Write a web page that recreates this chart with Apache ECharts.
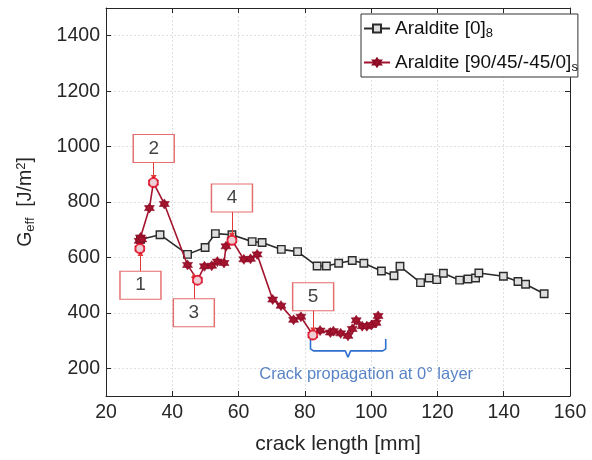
<!DOCTYPE html>
<html>
<head>
<meta charset="utf-8">
<script src="https://cdn.jsdelivr.net/npm/echarts@6/dist/echarts.min.js"></script>
<style>
html,body{margin:0;padding:0;background:#fff;}
#c{width:592px;height:460px;}
</style>
</head>
<body>
<div id="c"></div>
<script>
// ---- data ----
var blackX = [30.4, 36.3, 44.6, 49.9, 53.0, 58.0, 64.1, 67.1, 72.9, 77.8, 83.7, 86.5, 90.2, 94.3, 97.8, 103.1, 106.9, 108.7, 114.9, 117.5, 119.8, 121.8, 126.7, 129.2, 131.5, 132.5, 139.9, 144.3, 146.6, 152.2];
var blackY = [665, 682, 611, 636, 686, 682, 657, 654, 629, 621, 569, 569, 579, 589, 579, 551, 534, 568, 509, 526, 520, 543, 518, 522, 526, 544, 532, 513, 503, 469];
var redX = [30.2, 30.0, 30.4, 30.8, 33.1, 34.3, 37.6, 44.6, 47.6, 49.7, 51.9, 53.6, 55.6, 56.2, 58.0, 61.6, 63.6, 65.6, 70.3, 72.8, 76.6, 78.8, 82.4, 84.6, 87.7, 88.6, 90.8, 93.0, 94.3, 95.5, 97.3, 98.7, 100.1, 101.5, 102.1];
var redY = [632, 660, 672, 665, 778, 870, 793, 573, 518, 568, 570, 585, 580, 640, 662, 593, 595, 611, 448, 426, 375, 386, 320, 336, 329, 334, 326, 317, 342, 373, 352, 352, 356, 364, 389];
var specialIdx = [0, 5, 8, 14, 22];
var specialLabels = ['1', '2', '3', '4', '5'];
var boxX = [30.4, 34.4, 46.5, 58.0, 82.5];
var boxY = [500, 993, 400, 814, 458];
var arrowFromY = [550, 943, 450, 764, 408];
var arrowToY = [614, 888, 536, 680, 338];
var braceX = [81.7, 81.7, 82.6, 92.2, 93.0, 93.8, 103.5, 104.4, 104.4];
var braceY = [306, 270, 263, 263, 240, 263, 263, 270, 306];
var braceText = 'Crack propagation at 0\u00B0 layer';
var braceTextPos = [98.5, 177];
var xTicks = [20, 40, 60, 80, 100, 120, 140, 160];
var yTicks = [200, 400, 600, 800, 1000, 1200, 1400];
var seriesNames = ['Araldite [0]8', 'Araldite [90/45/-45/0]s'];

// ---- build ----
function zip(a, b) { return a.map(function (v, i) { return [v, b[i]]; }); }
var FONT = '"Liberation Sans", Arial, sans-serif';
var hexagram = 'path://M0,-10 L8.66,5 L-8.66,5 Z M0,10 L-8.66,-5 L8.66,-5 Z';
var specialData = specialIdx.map(function (i) { return [redX[i], redY[i]]; });
var boxData = boxX.map(function (x, i) { return { value: [x, boxY[i]], label: { formatter: specialLabels[i] } }; });
var arrowData = boxX.map(function (x, i) { return [{ coord: [x, arrowFromY[i]] }, { coord: [x, arrowToY[i]] }]; });

var chart = echarts.init(document.getElementById('c'), null, { renderer: 'canvas' });
var axisColor = '#262626';
var gridLine = { show: true, lineStyle: { color: '#e0e0e0', type: [2, 2], width: 1 } };

function xAx(pos, main) {
  return {
    type: 'value', position: pos, min: 20, max: 160, interval: 5,
    name: main ? 'crack length [mm]' : '', nameLocation: 'middle', nameGap: 38,
    nameTextStyle: { fontFamily: FONT, fontSize: 21, color: axisColor },
    axisLine: { show: true, onZero: false, lineStyle: { color: axisColor, width: 1 } },
    axisTick: { show: true, inside: true, length: 5, customValues: xTicks, lineStyle: { color: axisColor } },
    axisLabel: { show: main, customValues: xTicks, margin: 7, fontFamily: FONT, fontSize: 19.5, color: axisColor,
      formatter: function (v) { return v % 20 === 0 ? String(v) : ''; } },
    splitLine: main ? gridLine : { show: false }
  };
}
function yAx(pos, main) {
  return {
    type: 'value', position: pos, min: 100, max: 1500, interval: 50,
    name: main ? '{a|G}{s|eff}{a|  [J/m}{p|2}{a|]}' : '', nameLocation: 'middle', nameGap: 69, nameRotate: 90,
    nameTextStyle: { fontFamily: FONT, fontSize: 19, color: axisColor,
      rich: {
        a: { fontFamily: FONT, fontSize: 19.5, color: axisColor },
        s: { fontFamily: FONT, fontSize: 13, color: axisColor, padding: [9, 0, 0, 0] },
        p: { fontFamily: FONT, fontSize: 13, color: axisColor, padding: [0, 0, 9, 0] }
      } },
    axisLine: { show: true, onZero: false, lineStyle: { color: axisColor, width: 1 } },
    axisTick: { show: true, inside: true, length: 5, customValues: yTicks, lineStyle: { color: axisColor } },
    axisLabel: { show: main, customValues: yTicks, margin: 6, fontFamily: FONT, fontSize: 19.5, color: axisColor,
      formatter: function (v) { return v % 200 === 0 ? String(v) : ''; } },
    splitLine: main ? gridLine : { show: false }
  };
}

var option = {
  animation: false,
  backgroundColor: '#fff',
  grid: { left: 106, right: 22, top: 8, bottom: 59, containLabel: false },
  xAxis: [xAx('bottom', true), xAx('top', false)],
  yAxis: [yAx('left', true), yAx('right', false)],
  legend: {
    data: seriesNames,
    orient: 'vertical', left: 361, top: 14,
    backgroundColor: '#fff', borderColor: '#333', borderWidth: 1,
    padding: [5, 0, 3, 2], itemGap: 13, itemWidth: 26, itemHeight: 10,
    textStyle: { fontFamily: FONT, fontSize: 19, color: '#111',
      rich: {
        a: { fontFamily: FONT, fontSize: 19, color: '#111' },
        s: { fontFamily: FONT, fontSize: 13, color: '#111', padding: [10, 0, 0, 0] }
      } },
    formatter: function (n) {
      if (n === seriesNames[0]) return '{a|Araldite [0]}{s|8}';
      return '{a|Araldite [90/45/-45/0]}{s|s}';
    }
  },
  series: [
    {
      name: seriesNames[0], type: 'line', data: zip(blackX, blackY),
      symbol: 'rect', symbolSize: 7.5, showAllSymbol: true,
      lineStyle: { color: '#2b2b2b', width: 1.6 },
      itemStyle: { color: '#dedede', borderColor: '#2b2b2b', borderWidth: 1.4 },
      z: 3
    },
    {
      name: seriesNames[1], type: 'line', data: zip(redX, redY),
      symbol: hexagram, symbolSize: 10, showAllSymbol: true,
      lineStyle: { color: '#a3142f', width: 1.6 },
      itemStyle: { color: '#a3142f', borderColor: '#8c0a24', borderWidth: 0.6 },
      z: 4
    },
    {
      name: 'special', type: 'scatter', data: specialData,
      symbol: 'circle', symbolSize: 9,
      itemStyle: { color: '#fff', borderColor: '#e3001b', borderWidth: 2 },
      z: 6
    },
    {
      name: 'boxes', type: 'scatter', data: boxData,
      symbol: 'rect', symbolSize: [41, 28],
      itemStyle: { color: '#fff', borderColor: '#e04848', borderWidth: 1.2 },
      label: { show: true, position: 'inside', fontFamily: FONT, fontSize: 19, color: '#111' },
      markLine: {
        silent: true, symbol: ['none', 'triangle'], symbolSize: [6, 5],
        lineStyle: { color: '#e03b3b', width: 1, type: 'solid' },
        label: { show: false }, data: arrowData
      },
      z: 7
    },
    {
      name: 'brace', type: 'line', data: zip(braceX, braceY),
      symbol: 'none', smooth: false,
      lineStyle: { color: '#2f6fd0', width: 1.6 }, z: 5
    },
    {
      name: 'braceText', type: 'scatter', data: [braceTextPos],
      symbolSize: 0,
      label: { show: true, position: 'inside', formatter: braceText, fontFamily: FONT, fontSize: 16.5, color: '#2f64b8' },
      z: 5
    }
  ]
};
chart.setOption(option);
</script>
</body>
</html>
